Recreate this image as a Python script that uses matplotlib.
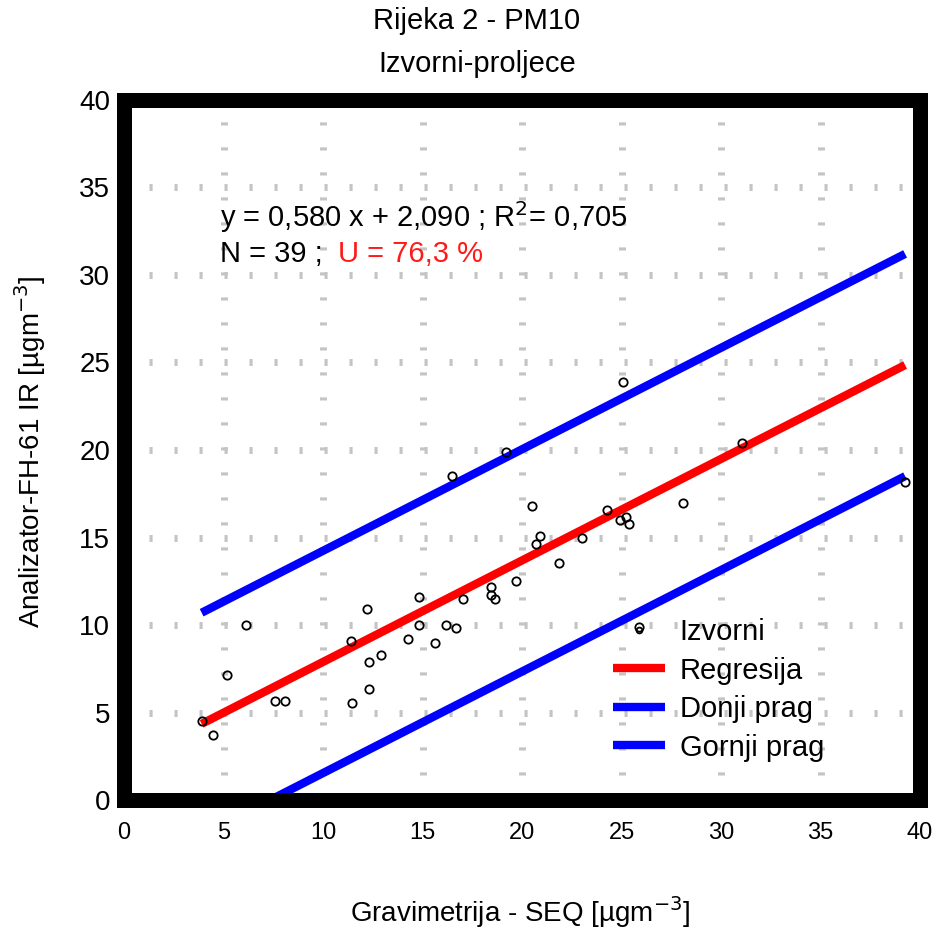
import matplotlib
matplotlib.use("Agg")
import matplotlib.pyplot as plt
import numpy as np
from matplotlib.patches import Rectangle

plt.rcParams["font.family"] = ["Liberation Sans", "DejaVu Sans"]

# measured pairs: gravimetric (x) vs analyser (y), ug/m3
grav = [16.46, 12.2, 6.13, 14.84, 14.84, 11.39, 14.29, 16.2, 16.68, 15.64,
        17.05, 12.33, 12.9, 5.19, 7.59, 8.09, 11.48, 12.33, 3.9, 4.49,
        25.09, 19.2, 31.04, 39.25, 20.49, 28.07, 24.25, 24.9, 25.2, 25.4,
        20.9, 20.7, 23.03, 21.86, 19.7, 18.43, 18.43, 18.64, 25.9]
analyzer = [18.5, 10.9, 10.0, 11.58, 10.0, 9.1, 9.2, 10.0, 9.85, 8.95,
            11.5, 7.9, 8.29, 7.12, 5.67, 5.67, 5.52, 6.34, 4.51, 3.71,
            23.89, 19.89, 20.4, 18.19, 16.8, 16.95, 16.57, 16.0, 16.19, 15.75,
            15.1, 14.63, 14.97, 13.56, 12.51, 12.19, 11.71, 11.46, 9.86]

slope = 0.580
intercept = 2.090
upper_intercept = 8.44   # Gornji prag
lower_intercept = -4.26  # Donji prag

ticks = [0, 5, 10, 15, 20, 25, 30, 35, 40]
grid_pos = [5, 10, 15, 20, 25, 30, 35]

RED = "#ff0000"
BLUE = "#0000ff"
GRID = "#c4c4c4"

fig = plt.figure(figsize=(9.39, 9.31), dpi=100)
ax = fig.add_axes([0.1321, 0.1407, 0.8477, 0.7519])

# dotted-looking grid (short stubs across the line)
grid_ls = (0, (0.45, 3.15))
for g in grid_pos:
    ax.axhline(g, color=GRID, lw=5, ls=grid_ls, dash_capstyle="butt", zorder=0)
    ax.axvline(g, color=GRID, lw=5, ls=grid_ls, dash_capstyle="butt", zorder=0)

xs = np.array([min(grav), max(grav)])
ax.plot(xs, slope * xs + intercept, color=RED, lw=6, solid_capstyle="butt",
        label="Regresija", zorder=2)
ax.plot(xs, slope * xs + lower_intercept, color=BLUE, lw=6,
        solid_capstyle="butt", label="Donji prag", zorder=2)
ax.plot(xs, slope * xs + upper_intercept, color=BLUE, lw=6,
        solid_capstyle="butt", label="Gornji prag", zorder=2)
ax.plot(grav, analyzer, ls="none", marker="o", ms=6, mfc="none", mec="black",
        mew=1.3, label="Izvorni", zorder=3)

ax.set_xlim(0, 40)
ax.set_ylim(0, 40)
ax.set_xticks(ticks)
ax.set_yticks(ticks)
ax.tick_params(axis="x", length=0, pad=16, labelsize=17)
ax.tick_params(axis="y", length=0, pad=10, labelsize=20)
for s in ax.spines.values():
    s.set_visible(False)

# heavy frame
ax.add_patch(Rectangle((0, 0), 1, 1, transform=ax.transAxes, fill=False,
                       lw=10.8, edgecolor="black", joinstyle="miter",
                       clip_on=False, zorder=5))

ax.text(4.8, 33.3, "y = 0,580 x + 2,090 ; R$^2$= 0,705", fontsize=21,
        va="center", ha="left", zorder=4)
ax.text(4.8, 31.2, "N = 39 ;", fontsize=21, va="center", ha="left", zorder=4)
ax.text(10.75, 31.2, "U = 76,3 %", fontsize=21, va="center", ha="left",
        color="#ff1a1a", zorder=4)

handles, labels = ax.get_legend_handles_labels()
order = [3, 0, 1, 2]
ax.legend([handles[i] for i in order], [labels[i] for i in order],
          loc="upper left", bbox_to_anchor=(0.614, 0.26), frameon=False,
          fontsize=21, handlelength=1.8, handletextpad=0.5, labelspacing=0.36,
          borderpad=0, borderaxespad=0, markerscale=0.7)

ax.set_xlabel("Gravimetrija - SEQ [µgm$^{-3}$]", fontsize=20)
ax.xaxis.set_label_coords(0.497, -0.135)
ax.set_ylabel("Analizator-FH-61 IR [µgm$^{-3}$]", fontsize=20)
ax.yaxis.set_label_coords(-0.0955, 0.497)

fig.text(0.508, 0.977, "Rijeka 2 - PM10", fontsize=21, ha="center", va="center")
fig.text(0.508, 0.931, "Izvorni-proljece", fontsize=21, ha="center", va="center")

fig.savefig("out.png", dpi=100)
